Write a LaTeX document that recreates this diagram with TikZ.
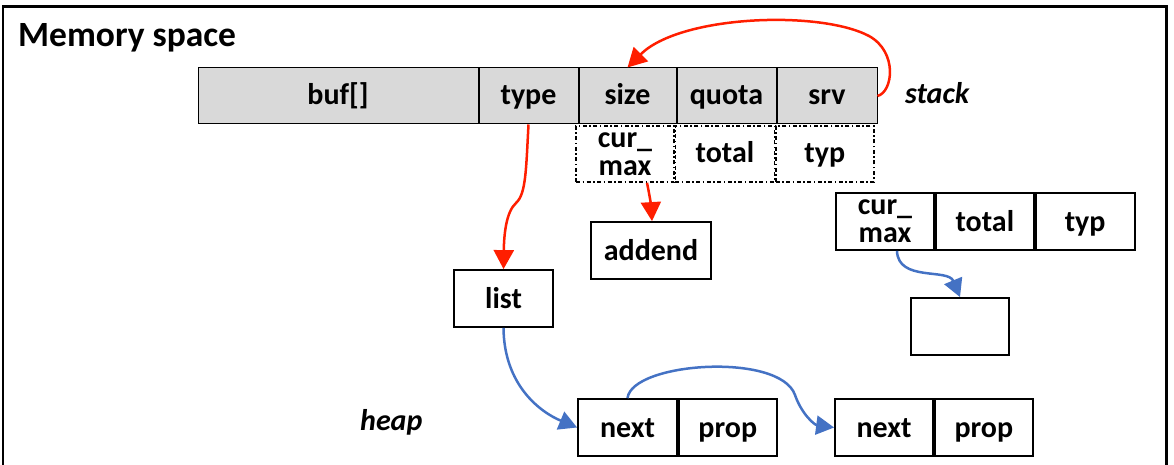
\documentclass[tikz,border=0pt]{standalone}
\usepackage{fontspec}
\setmainfont{Carlito}
\usepackage{xcolor}
\usepackage{tikz}
\usetikzlibrary{arrows.meta,positioning}
\definecolor{redc}{HTML}{FF1E00}
\definecolor{bluec}{HTML}{4472C4}
\definecolor{grayc}{HTML}{D9D9D9}
\newcommand{\cellfont}{\fontsize{30}{28}\selectfont\bfseries}
\tikzset{
  cl/.style={draw,fill=grayc,line width=1pt,minimum width=99pt,minimum height=56pt,inner sep=0pt,text height=20pt,text depth=2pt,font=\cellfont},
  dc/.style={draw,line width=1.4pt,dash pattern=on 4pt off 2.5pt on 1.5pt off 2.5pt,minimum width=98pt,minimum height=56pt,inner sep=0pt,align=center,text height=20pt,text depth=2pt,font=\cellfont},
  bx/.style={draw,line width=1.8pt,minimum width=98pt,minimum height=57pt,inner sep=0pt,align=center,text height=20pt,text depth=1pt,font=\cellfont},
  two/.style={text height=,text depth=},
  lb/.style={anchor=base west,inner sep=0pt,font=\fontsize{30}{30}\selectfont\bfseries\itshape},
  ar/.style={-{Triangle[length=19pt,width=20pt]},line width=2.5pt,redc},
  arb/.style={-{Triangle[length=18pt,width=19pt]},line width=2.5pt,bluec}
}
\begin{document}
\begin{tikzpicture}[x=1pt,y=-1pt]
\clip (0,0) rectangle (1174,465);
\draw[line width=2.7pt] (3,490) -- (3,6.5) -- (1166.5,6.5) -- (1166.5,490);
\node[anchor=base west,inner sep=0pt,font=\fontsize{35.5}{40}\selectfont\bfseries] (title) at (18,47) {Memory space};
% stack row
\node[cl,minimum width=280pt] (buf) at (338,96) {buf[]};
\node[cl,right=0pt of buf] (type) {type};
\node[cl,right=0pt of type,minimum width=97pt] (size) {size};
\node[cl,right=0pt of size] (quota) {quota};
\node[cl,right=0pt of quota,minimum width=100pt] (srv) {srv};
\node[lb] (stack) at (905,104) {stack};
% overlay on size/quota/srv
\node[dc,two] (cmax) at (625,154) {cur\_\\max};
\node[dc,right=0pt of cmax,minimum width=99pt] (total) {total};
\node[dc,right=0pt of total] (typ) {typ};
% struct on the right
\node[bx,two] (cmaxb) at (885,221.5) {cur\_\\max};
\node[bx,right=0pt of cmaxb] (totalb) {total};
\node[bx,right=0pt of totalb,minimum width=99pt] (typb) {typ};
\node[bx] (empty) at (960,326.5) {};
% heap
\node[bx,minimum width=120pt] (addend) at (651,250.5) {addend};
\node[bx,minimum width=99pt] (list) at (503.5,298.5) {list};
\node[bx,minimum width=99pt] (next1) at (627.5,427.5) {next};
\node[bx,right=0pt of next1] (prop1) {prop};
\node[bx] (next2) at (884,427.5) {next};
\node[bx,right=0pt of next2] (prop2) {prop};
\node[lb] (heap) at (360,430) {heap};
% pointers
\draw[ar] (srv.east) .. controls (893,92) and (898,52) .. (869,36)
  .. controls (820,10) and (680,15) .. (size.north);
\draw[ar] (type.south) .. controls (526,170) and (526,194) .. (516,203)
  .. controls (506,212) and (504,235) .. (list.north);
\draw[ar] ([xshift=22pt]cmax.south) to[bend left=4] ([xshift=1pt]addend.north);
\draw[arb] (list.south) .. controls (504,385) and (540,412) .. (next1.west);
\draw[arb] (next1.north) .. controls (632,362) and (780,352) .. (795,395)
  .. controls (802,415) and (815,425) .. (next2.west);
\draw[arb] ([xshift=12pt]cmaxb.south) .. controls (898,282) and (948,268) .. (empty.north);
\end{tikzpicture}
\end{document}
